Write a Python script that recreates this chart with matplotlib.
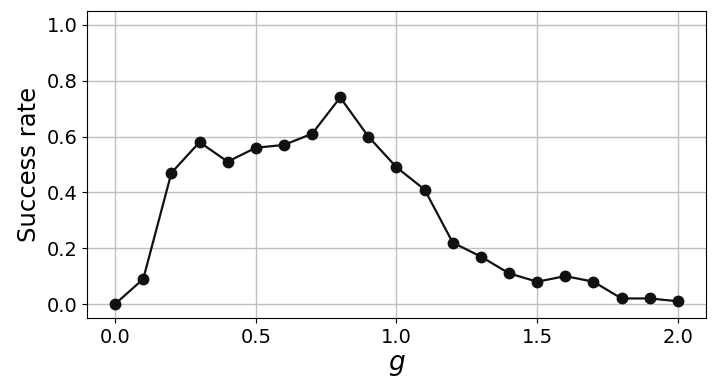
import numpy as np
import matplotlib
matplotlib.use('Agg')
import matplotlib.pyplot as plt

g_vals = [0.0, 0.1, 0.2, 0.3, 0.4, 0.5, 0.6, 0.7, 0.8, 0.9, 1.0,
          1.1, 1.2, 1.3, 1.4, 1.5, 1.6, 1.7, 1.8, 1.9, 2.0]
success = [0.0, 0.09, 0.47, 0.58, 0.51, 0.56, 0.57, 0.61, 0.74, 0.60, 0.49,
           0.41, 0.22, 0.17, 0.11, 0.08, 0.10, 0.08, 0.02, 0.02, 0.01]

fig = plt.figure(figsize=(7.16, 3.91), dpi=100)
ax = fig.add_axes([0.1215, 0.1867, 0.8645, 0.7853])

ax.plot(g_vals, success, '-o', color='#111111', markersize=7.5, linewidth=1.6)
ax.set_ylim(-0.05, 1.05)
ax.set_xlim(-0.1, 2.1)
ax.set_xticks([0.0, 0.5, 1.0, 1.5, 2.0])
ax.set_yticks([0.0, 0.2, 0.4, 0.6, 0.8, 1.0])
ax.grid(True, color='#bfbfbf', linewidth=1.0)
ax.set_axisbelow(True)
ax.tick_params(labelsize=14)
ax.set_xlabel(r'$g$', fontsize=19)
ax.set_ylabel('Success rate', fontsize=17.5)

fig.savefig('out.png', dpi=100)
